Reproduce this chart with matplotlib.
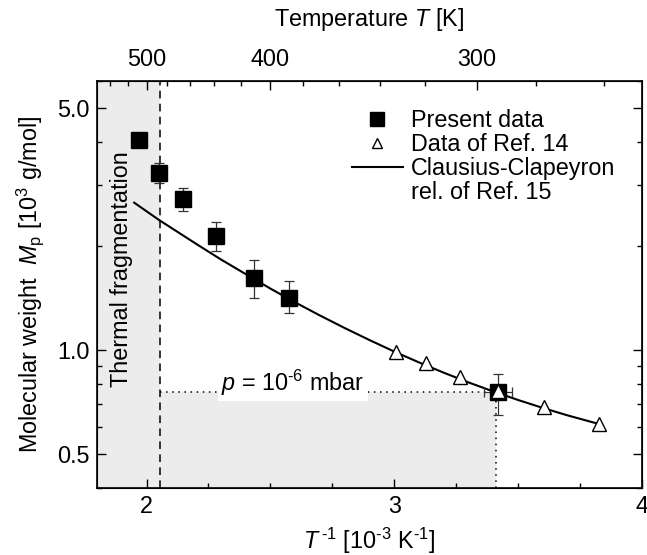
import matplotlib
matplotlib.use("Agg")
import matplotlib.pyplot as plt
from matplotlib.lines import Line2D

plt.rcParams["font.family"] = ["Liberation Sans", "DejaVu Sans"]
plt.rcParams["font.size"] = 16.8
plt.rcParams["mathtext.fontset"] = "custom"
plt.rcParams["mathtext.rm"] = "Liberation Sans"
plt.rcParams["mathtext.it"] = "Liberation Sans:italic"

# present data (x = 1000/T, M in 10^3 g/mol)
present_x = [1.969, 2.05, 2.147, 2.28, 2.433, 2.574, 3.42]
present_m = [4.06, 3.26, 2.74, 2.14, 1.62, 1.42, 0.757]
present_hi = [4.16, 3.48, 2.95, 2.34, 1.82, 1.58, 0.853]
present_lo = [3.96, 3.05, 2.53, 1.94, 1.42, 1.28, 0.65]
present_xerr = [0, 0, 0, 0, 0, 0, 0.056]

# data of ref. 14
ref14_x = [3.006, 3.127, 3.264, 3.42, 3.606, 3.828]
ref14_m = [0.987, 0.917, 0.836, 0.762, 0.685, 0.612]

# clausius-clapeyron curve of ref. 15
cc_x = [1.95, 2.05, 2.1, 2.2, 2.3, 2.4, 2.5, 2.6, 2.7, 2.8, 2.9, 3.0,
        3.1, 3.2, 3.3, 3.4, 3.5, 3.6, 3.7, 3.83]
cc_m = [2.67, 2.38, 2.257, 2.03, 1.83, 1.66, 1.507, 1.375, 1.26, 1.159, 1.07, 0.991,
        0.922, 0.861, 0.807, 0.76, 0.718, 0.681, 0.648, 0.611]

# fragmentation limit and p = 1e-6 mbar marker
frag_x = 2.054
p_x = 3.413
p_m = 0.757

top_major = [500, 400, 300]
top_minor = list(range(260, 541, 20))

fig = plt.figure(figsize=(6.47, 5.55), dpi=100)
ax = fig.add_axes([0.150, 0.121, 0.842, 0.733])
ax.set_yscale("log")
ax.set_xlim(1.8, 4.0)
ax.set_ylim(0.4, 6.0)

gray = "#ececec"
ax.axvspan(1.8, frag_x, color=gray, lw=0, zorder=0)
ax.fill_between([frag_x, p_x], 0.4, p_m, color=gray, lw=0, zorder=0)
ax.axvline(frag_x, color="black", ls=(0, (5, 3.5)), lw=1.1, zorder=1)
ax.plot([frag_x, p_x], [p_m, p_m], color="black", ls=(0, (1, 3)), lw=1.1, zorder=1)
ax.plot([p_x, p_x], [0.4, p_m], color="black", ls=(0, (1, 3)), lw=1.1, zorder=1)

ax.plot(cc_x, cc_m, color="black", lw=1.5, zorder=2)

yerr = [[m - lo for m, lo in zip(present_m, present_lo)],
        [hi - m for m, hi in zip(present_m, present_hi)]]
ax.errorbar(present_x, present_m, yerr=yerr, xerr=present_xerr, fmt="s", color="black",
            ms=11.5, ecolor="#333333", elinewidth=0.9, capsize=3.5, capthick=0.9, zorder=3)
ax.plot(ref14_x, ref14_m, "^", ms=10, mfc="white", mec="black", mew=1.0, ls="none", zorder=4)

ax.text(1.90, 1.71, "Thermal fragmentation", rotation=90, ha="center", va="center")
ax.text(2.59, 0.805, "$p$ = 10$^{\\text{-}6}$ mbar", ha="center", va="center",
        bbox=dict(facecolor="white", edgecolor="none", pad=2.5))

# axes ticks
ax.set_xticks([2, 3, 4])
ax.set_xticklabels(["2", "3", "4"])
ax.set_xticks([2.25, 2.5, 2.75, 3.25, 3.5, 3.75], minor=True)
ax.set_yticks([0.5, 1.0, 5.0])
ax.set_yticklabels(["0.5", "1.0", "5.0"])
ax.set_yticks([0.4, 0.6, 0.7, 0.8, 0.9, 2, 3, 4, 6], minor=True)
ax.yaxis.set_minor_formatter(matplotlib.ticker.NullFormatter())
ax.tick_params(which="both", direction="in", right=True, top=False, width=1.0)
ax.tick_params(which="major", length=6.5, pad=5)
ax.tick_params(which="minor", length=3.5)
for s in ax.spines.values():
    s.set_linewidth(1.2)

ax.set_xlabel("$T^{\\,\\text{-}1}$ [10$^{\\text{-}3}$ K$^{\\text{-}1}$]", labelpad=6)
ax.set_ylabel("Molecular weight  $M_\\mathrm{p}$ [10$^3$ g/mol]", labelpad=8)

# top axis in temperature
ax2 = ax.twiny()
ax2.set_xlim(ax.get_xlim())
ax2.set_xticks([1000 / t for t in top_major])
ax2.set_xticklabels([str(t) for t in top_major])
ax2.set_xticks([1000 / t for t in top_minor if t not in top_major], minor=True)
ax2.tick_params(which="both", direction="in", width=1.0)
ax2.tick_params(which="major", length=6.5, pad=7)
ax2.tick_params(which="minor", length=3.5)
ax2.set_xlabel("Temperature $T$ [K]", labelpad=16)

handles = [Line2D([], [], marker="s", color="black", ls="none", ms=10),
           Line2D([], [], marker="^", mfc="white", mec="black", ls="none", ms=7),
           Line2D([], [], color="black", lw=1.5),
           Line2D([], [], ls="none")]
labels = ["Present data", "Data of Ref. 14", "Clausius-Clapeyron", "rel. of Ref. 15"]
ax.legend(handles, labels, loc="upper left", bbox_to_anchor=(0.446, 0.96), frameon=False,
          borderpad=0, handlelength=2.2, handletextpad=0.35, labelspacing=0.05)

plt.savefig("out.png", dpi=100)
